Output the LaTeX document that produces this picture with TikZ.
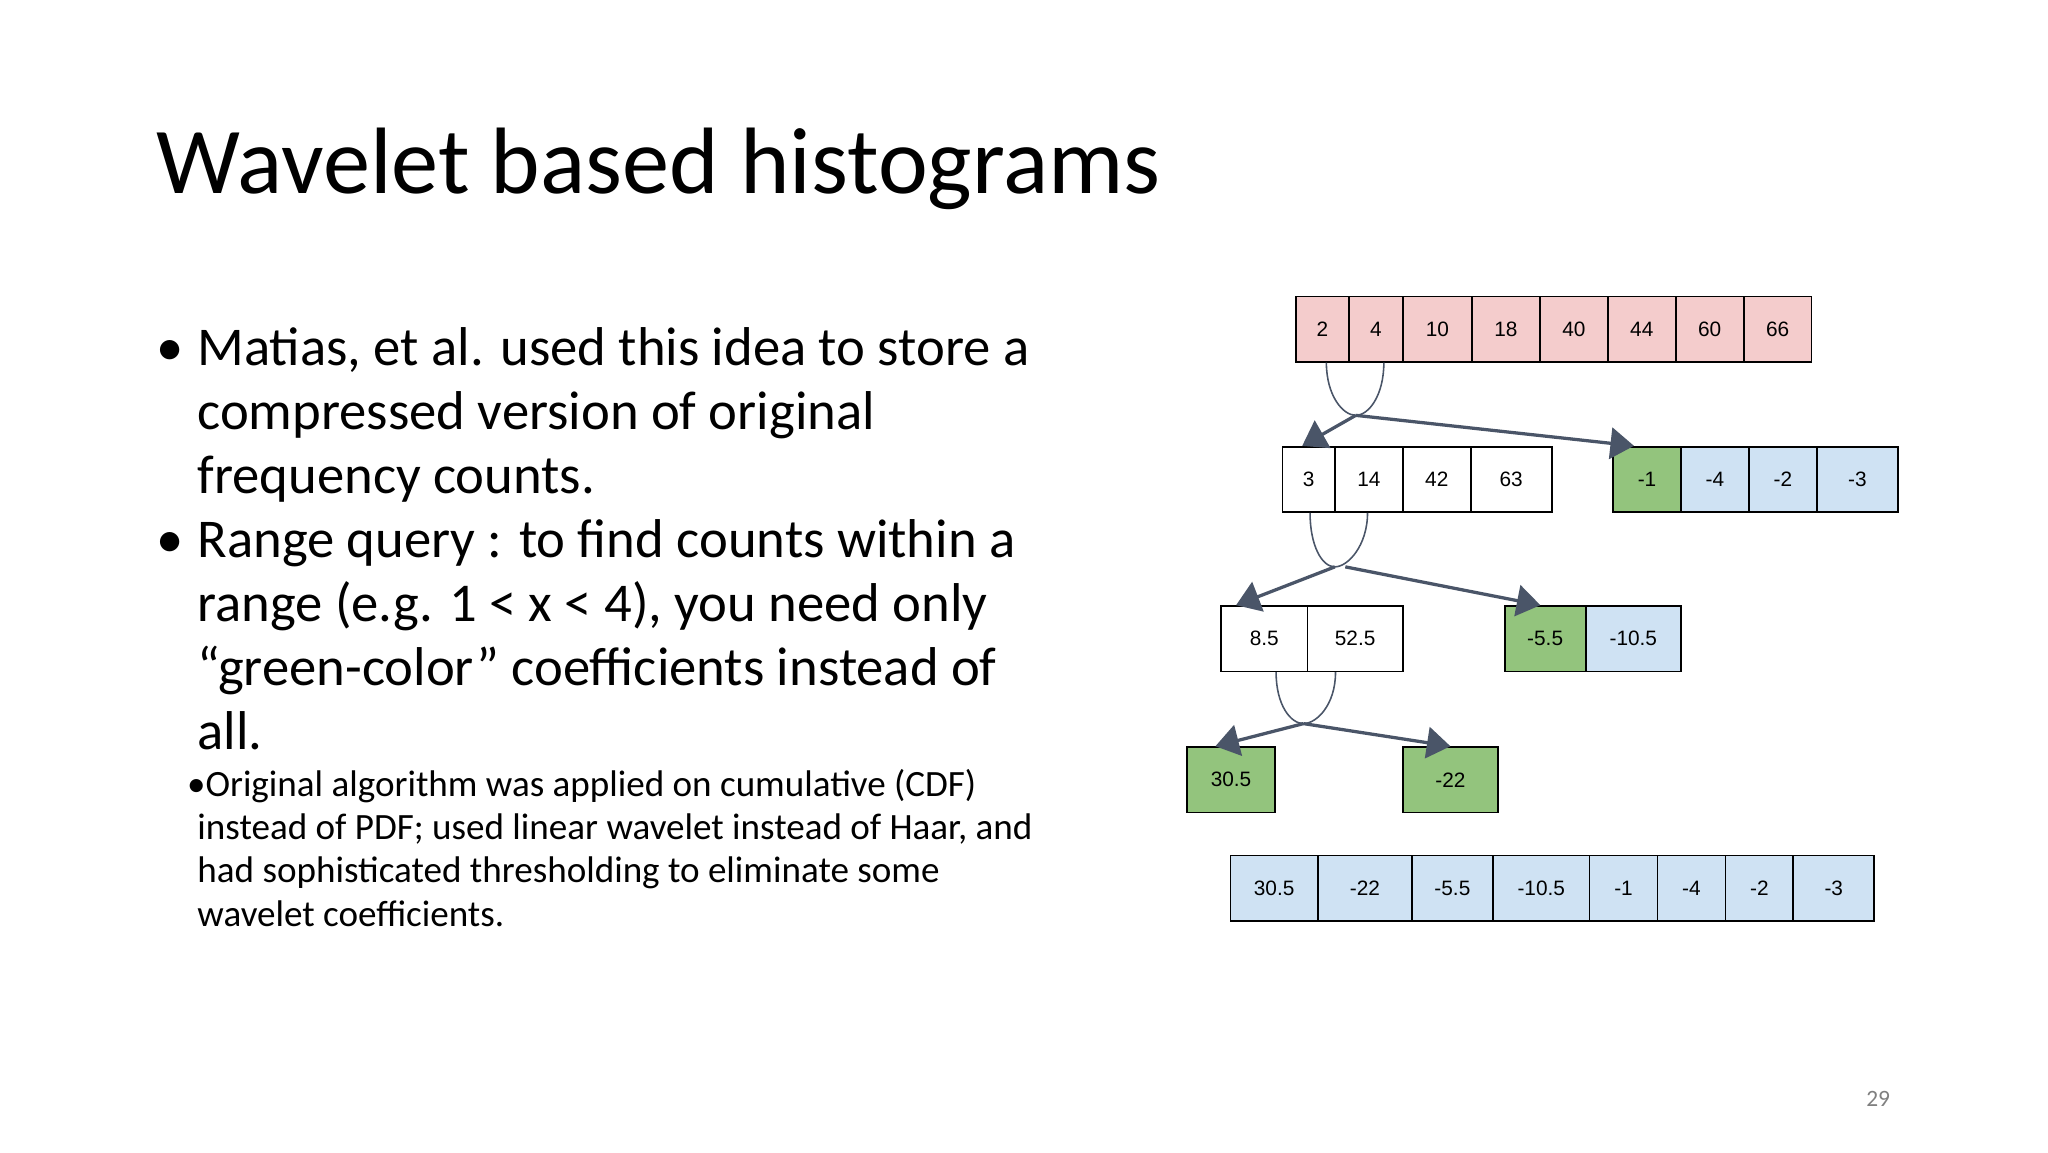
\documentclass[tikz,border=0pt]{standalone}
\usepackage{fontspec}
\setmainfont{Carlito}
\newfontfamily\cellfont{Liberation Sans}
\usetikzlibrary{arrows.meta}
\definecolor{pinkc}{HTML}{F4CCCC}
\definecolor{greenc}{HTML}{93C47D}
\definecolor{bluec}{HTML}{CFE2F3}
\definecolor{arrc}{HTML}{4A5568}
\begin{document}
\begin{tikzpicture}[x=1bp,y=-1bp,
  cell/.style={draw=black,line width=1.3bp,inner sep=0pt,minimum height=50bp,font=\cellfont\fontsize{16}{18}\selectfont},
  conn/.style={draw=arrc,line width=2.5bp,-{Triangle[width=24bp,length=18bp]}},
  arcl/.style={draw=arrc,line width=1.2bp},
  txt/.style={anchor=base west,inner sep=0pt},
  big/.style={txt,font=\fontsize{42}{49}\selectfont},
  small/.style={txt,font=\fontsize{28.5}{33}\selectfont}]
\fill[white] (0,0) rectangle (1568,882);
\useasboundingbox (0,0) rectangle (1568,882);
\node[txt,font=\fontsize{72.5}{80}\selectfont] (title) at (120,148) {Wavelet based histograms};
\node[big] (b1) at (120,280) {•};
\node[big] (l1) at (151,280) {Matias, et al. used this idea to store a};
\node[big] (l2) at (151,329) {compressed version of original};
\node[big] (l3) at (151,378) {frequency counts.};
\node[big] (b2) at (120,427) {•};
\node[big] (l4) at (151,427) {Range query : to find counts within a};
\node[big] (l5) at (151,476) {range (e.g. 1 < x < 4), you need only};
\node[big] (l6) at (151,525) {“green-color” coefficients instead of};
\node[big] (l7) at (151,574) {all.};
\node[small] (s1x) at (143,610) {•Original algorithm was applied on cumulative (CDF)};
\node[small] (s2x) at (151,643) {instead of PDF; used linear wavelet instead of Haar, and};
\node[small] (s3x) at (151,676) {had sophisticated thresholding to eliminate some};
\node[small] (s4x) at (151,709) {wavelet coefficients.};
\node[font=\fontsize{18}{20}\selectfont,text=gray] (pg) at (1438,841) {29};
% rows
\foreach \a/\b/\t/\n in {992/1033/2/p1,1033/1074/4/p2,1074/1127/10/p3,1127/1179/18/p4,1179/1231/40/p5,1231/1283/44/p6,1283/1335/60/p7,1335/1387/66/p8}
 {\pgfmathsetmacro\w{\b-\a}\node[cell,fill=pinkc,minimum width=\w bp] (\n) at ({(\a+\b)/2},252) {\t};}
\foreach \a/\b/\t/\n in {982/1022/3/q1,1022/1074/14/q2,1074/1126/42/q3,1126/1188/63/q4}
 {\pgfmathsetmacro\w{\b-\a}\node[cell,fill=white,minimum width=\w bp] (\n) at ({(\a+\b)/2},367) {\t};}
\foreach \a/\b/\t/\n/\c in {1235/1287/-1/d1/greenc,1287/1339/-4/d2/bluec,1339/1391/-2/d3/bluec,1391/1453/-3/d4/bluec}
 {\pgfmathsetmacro\w{\b-\a}\node[cell,fill=\c,minimum width=\w bp] (\n) at ({(\a+\b)/2},367) {\t};}
\foreach \a/\b/\t/\n/\c in {935/1001/8.5/s1/white,1001/1074/52.5/s2/white,1152/1214/-5.5/e1/greenc,1214/1287/-10.5/e2/bluec}
 {\pgfmathsetmacro\w{\b-\a}\node[cell,fill=\c,minimum width=\w bp] (\n) at ({(\a+\b)/2},489) {\t};}
\node[cell,fill=greenc,minimum width=67bp] (t1) at (942.5,597) {30.5};
\node[cell,fill=greenc,minimum width=73bp] (t2) at (1110.5,597) {-22};
\foreach \a/\b/\t/\n in {942/1009/30.5/f1,1009/1081/-22/f2,1081/1143/-5.5/f3,1143/1217/-10.5/f4,1217/1269/-1/f5,1269/1321/-4/f6,1321/1373/-2/f7,1373/1435/-3/f8}
 {\pgfmathsetmacro\w{\b-\a}\node[cell,fill=bluec,minimum width=\w bp] (\n) at ({(\a+\b)/2},680) {\t};}
% junctions
\coordinate (j1) at (1038,318);
\coordinate (j2) at (1022,434);
\coordinate (j3) at (998,554);
\draw[arcl] ([xshift=3bp]p1.south) .. controls +(0,25) and +(-10,0) .. (j1) .. controls +(10,0) and +(0,25) .. ([xshift=6bp]p2.south);
\draw[arcl] ([xshift=1bp]q1.south) .. controls +(0,25) and +(-10,0) .. (j2) .. controls +(10,0) and +(0,25) .. ([xshift=-1bp]q2.south);
\draw[arcl] ([xshift=9bp]s1.south) .. controls +(0,25) and +(-10,0) .. (j3) .. controls +(10,0) and +(0,25) .. ([xshift=-15bp]s2.south);
\draw[conn] (j1) -- ([xshift=-5bp]q1.north);
\draw[conn] (j1) -- ([xshift=-10bp]d1.north);
\draw[conn] (j2) -- ([xshift=12bp]s1.north west);
\draw[conn] ([xshift=8bp]j2) -- ([xshift=28bp]e1.north west);
\draw[conn] (j3) -- ([xshift=-12bp]t1.north);
\draw[conn] (j3) -- (t2.north);
\end{tikzpicture}
\end{document}
